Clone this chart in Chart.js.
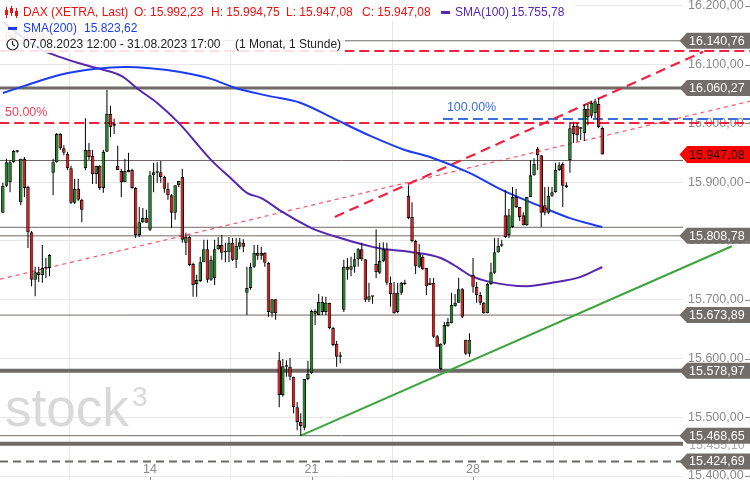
<!DOCTYPE html>
<html><head><meta charset="utf-8">
<script src="https://cdn.jsdelivr.net/npm/chart.js@4.4.1/dist/chart.umd.min.js"></script>
<style>html,body{margin:0;padding:0;background:#fff;overflow:hidden}#wrap{width:750px;height:480px}canvas{display:block}</style>
</head><body><div id="wrap"><canvas id="chart" width="750" height="480"></canvas></div>
<script>
// ---------- DATA (hourly candles, 07.08.2023 12:00 - 31.08.2023 17:00) ----------
const opens = [15848,15894,15900,15934,15952,15866,15940,15892,15815,15734,15747,15742,15754,15754,15916,15934,15982,15958,15948,15924,
15865,15889,15870,15924,15955,15945,15914,15928,15890,15952,16016,15999,15928,15919,15900,15917,15921,15890,15810,15832,
15839,15819,15912,15917,15917,15909,15889,15878,15848,15895,15909,15797,15807,15761,15727,15732,15764,15786,15734,15737,
15786,15793,15783,15781,15797,15768,15790,15797,15712,15720,15756,15780,15775,15780,15763,15677,15701,15597,15538,15587,
15586,15569,15517,15492,15482,15565,15575,15681,15674,15679,15679,15695,15652,15625,15604,15683,15756,15751,15756,15769,
15786,15769,15700,15706,15761,15746,15766,15786,15729,15712,15679,15712,15729,15877,15841,15800,15756,15773,15754,15725,
15729,15638,15582,15625,15655,15660,15689,15695,15718,15632,15608,15742,15722,15708,15695,15677,15727,15746,15781,15792,
15844,15810,15824,15875,15858,15844,15827,15875,15912,15957,15946,15861,15848,15877,15883,15921,15931,15895,15938,15996,
15996,15992,15984,16025,16013,16018,16033,15992.23];
const highs = [15899,15940,15938,15955,15955,15940,15943,15894,15817,15756,15756,15793,15771,15778,15940,15984,15984,15963,15952,15928,
15906,15906,15872,16009,15967,15955,15928,15929,15955,16057,16030,16008,15962,15923,15940,15950,15923,15892,15858,15856,
15853,15919,15933,15934,15936,15911,15899,15880,15895,15902,15923,15814,15809,15763,15742,15773,15802,15802,15775,15802,
15807,15810,15797,15807,15805,15805,15805,15803,15756,15763,15793,15793,15790,15781,15764,15701,15701,15611,15599,15597,
15601,15569,15526,15507,15565,15596,15683,15684,15710,15706,15705,15695,15654,15630,15611,15768,15771,15773,15780,15788,
15797,15769,15729,15706,15820,15797,15798,15797,15739,15730,15729,15730,15734,15895,15866,15802,15795,15776,15754,15737,
15737,15640,15626,15662,15669,15712,15710,15737,15720,15632,15643,15771,15730,15713,15696,15729,15763,15805,15805,15802,
15887,15855,15892,15889,15858,15849,15875,15938,15941,15960,15946,15892,15892,15892,15933,15934,15934,15900,16001,16003,
16001,15994,16033,16033,16038,16042,16043,15994.75];
const lows = [15848,15892,15883,15933,15950,15861,15875,15788,15723,15706,15730,15729,15737,15740,15878,15933,15955,15946,15921,15863,
15863,15868,15832,15921,15938,15897,15897,15887,15882,15952,15977,15982,15921,15875,15900,15917,15889,15805,15807,15831,
15831,15817,15883,15899,15899,15882,15870,15822,15836,15892,15797,15776,15757,15705,15705,15730,15764,15729,15732,15725,
15785,15768,15764,15764,15766,15754,15786,15781,15674,15717,15754,15768,15768,15756,15671,15671,15666,15517,15535,15569,
15563,15507,15478,15468,15478,15563,15574,15657,15674,15674,15674,15650,15621,15586,15592,15679,15734,15740,15746,15756,
15766,15696,15696,15693,15737,15744,15764,15725,15688,15676,15677,15708,15725,15837,15798,15744,15754,15751,15708,15725,
15635,15620,15580,15623,15654,15660,15688,15695,15669,15606,15603,15712,15695,15691,15676,15677,15725,15744,15780,15790,
15805,15805,15822,15856,15834,15827,15826,15875,15911,15921,15824,15844,15846,15875,15882,15919,15858,15890,15916,15967,
15969,15972,15970,15997,16009,16009,15992,15947.08];
const closes = [15894,15934,15934,15953,15953,15940,15890,15815,15734,15747,15742,15754,15753,15776,15934,15982,15958,15950,15924,15865,
15889,15870,15853,15955,15943,15914,15928,15890,15952,16016,15994,15996,15921,15900,15919,15921,15890,15810,15832,15839,
15831,15912,15917,15916,15909,15889,15878,15848,15895,15902,15802,15807,15759,15725,15734,15764,15786,15734,15768,15786,
15793,15780,15781,15797,15768,15792,15798,15790,15720,15756,15780,15775,15780,15763,15679,15701,15677,15538,15587,15586,
15569,15517,15492,15485,15565,15574,15681,15676,15696,15696,15695,15652,15623,15603,15603,15756,15751,15757,15769,15786,
15769,15700,15706,15705,15747,15766,15786,15729,15710,15677,15712,15729,15727,15839,15800,15757,15778,15752,15723,15729,
15637,15620,15625,15657,15662,15691,15695,15718,15671,15608,15632,15722,15708,15695,15677,15727,15747,15781,15792,15793,
15807,15844,15875,15858,15841,15827,15875,15912,15931,15946,15848,15848,15877,15883,15921,15929,15894,15892,15992,15982,
15980,15991,16025,16011,16035,16038,15994,15947.08];

// moving averages (read at candle positions)
const sma100Idx = [0,5,10,16,21,27,33,38,43,49,58,64,68,72,78,86,94,103,108,114,122,127,130,136,146,153,161,167];
const sma100Val = [16173,16149,16128,16113,16103,16093,16081,16057,16035,16001,15938,15904,15882,15873,15849,15822,15805,15790,15785,15781,15771,15754,15742,15730,15723,15729,15739,15755.78];
const sma200Idx = [0,6,16,26,34,41,49,58,65,74,83,93,102,112,119,130,139,149,158,167];
const sma200Val = [16052,16064,16083,16093,16096,16094,16088,16076,16060,16047,16035,16006,15980,15955,15943,15916,15887,15861,15839,15823.62];

// axis ticks
const yTickValues = [15400,15500,15600,15700,15800,15900,16000,16100,16200];
const xTickIdx = [41,86,131];
const xTickLabels = ['14','21','28'];

// horizontal levels
const levelValues = [16140.76,16060.27,15937.00,15823.30,15808.78,15673.89,15578.97,15455.10,15468.65,15424.69];
// fibonacci-style lines
const fibValues = [16123.4,16000.8,16007.6];
const fibLabels = ['61.80%','50.00%','100.00%'];
const fibStartIdx = [-1,-1,122.6];
// trend lines [startIdx, startVal, endIdx, endVal]
const trendRed = [92.5,15841,195.1,16122];
const trendThin = [-0.8,15735,208.2,16038];
const trendGreen = [83,15468.65,203.1,15791];

// ---------- STYLE ----------
const FONT = '"Liberation Sans", Arial, sans-serif';
const GREEN = '#138a1a', RED = '#f01010', LEVEL = '#6f6a67';
const XMIN = -0.794, XMAX = 189.5, XFAR = 209;
const levelWidth = [1,3,1,1,1,1,4,4,1,2];
const levelDash  = [[],[],[],[],[],[],[],[],[],[8,5]];
const levelTag   = [true,true,false,false,true,true,true,'ghost',true,true];
const fibColor = ['#f2213f','#f2213f','#3a6fd8'];

function fmt(v){const s=Math.abs(v).toFixed(2).split('.');return s[0].replace(/\B(?=(\d{3})+(?!\d))/g,'.')+','+s[1];}

Chart.defaults.font.family = FONT;
Chart.defaults.font.size = 12;

const datasets = [];
levelValues.forEach((v,k)=>datasets.push({type:'line',data:[{x:XMIN,y:v},{x:XMAX,y:v}],borderColor:LEVEL,borderWidth:levelWidth[k],borderDash:levelDash[k],pointRadius:0,order:7}));
fibValues.forEach((v,k)=>datasets.push({type:'line',data:[{x:fibStartIdx[k],y:v},{x:XFAR,y:v}],borderColor:fibColor[k],borderWidth:2,borderDash:[10,5],pointRadius:0,clip:false,order:6}));
datasets.push({type:'line',data:[{x:trendThin[0],y:trendThin[1]},{x:trendThin[2],y:trendThin[3]}],borderColor:'rgba(245,40,70,0.8)',borderWidth:1.2,borderDash:[4,4],pointRadius:0,clip:false,order:5});
datasets.push({type:'line',data:[{x:trendRed[0],y:trendRed[1]},{x:trendRed[2],y:trendRed[3]}],borderColor:'#f2213f',borderWidth:2.2,borderDash:[10,6],pointRadius:0,clip:false,order:5});
datasets.push({type:'line',data:[{x:trendGreen[0],y:trendGreen[1]},{x:trendGreen[2],y:trendGreen[3]}],borderColor:'#3ba43b',borderWidth:2,pointRadius:0,clip:false,order:5});
datasets.push({type:'line',data:sma200Idx.map((x,i)=>({x,y:sma200Val[i]})),borderColor:'#1d3cf0',borderWidth:2,pointRadius:0,cubicInterpolationMode:'monotone',order:3});
datasets.push({type:'line',data:sma100Idx.map((x,i)=>({x,y:sma100Val[i]})),borderColor:'#5626b0',borderWidth:2,pointRadius:0,cubicInterpolationMode:'monotone',order:3});
datasets.push({type:'bar',data:opens.map((o,i)=>({x:i,y:[lows[i],highs[i]]})),backgroundColor:'#000',barThickness:1,minBarLength:1,grouped:false,inflateAmount:0,order:1});
datasets.push({type:'bar',data:opens.map((o,i)=>({x:i,y:[o,closes[i]]})),backgroundColor:opens.map((o,i)=>closes[i]>=o?GREEN:RED),borderColor:'#000',borderWidth:1,borderSkipped:false,barThickness:3.5,minBarLength:1.5,grouped:false,inflateAmount:0,order:0});

function tag(ctx,y,text,bg,fg,h){
  ctx.beginPath();ctx.moveTo(679.5,y);ctx.lineTo(687,y-h/2);ctx.lineTo(750,y-h/2);ctx.lineTo(750,y+h/2);ctx.lineTo(687,y+h/2);ctx.closePath();
  ctx.fillStyle=bg;ctx.fill();
  ctx.fillStyle=fg;ctx.font='12.5px '+FONT;ctx.textAlign='left';ctx.textBaseline='middle';ctx.fillText(text,689,y+0.5);
}

const overlay = {
  id:'overlay',
  beforeDatasetsDraw(chart){
    const ctx=chart.ctx;ctx.save();
    ctx.fillStyle='#d9d9d9';ctx.textBaseline='alphabetic';ctx.textAlign='left';
    ctx.font='53px '+FONT;ctx.fillText('stock',5,426);
    ctx.font='28px '+FONT;ctx.fillText('3',132,406);
    ctx.restore();
  },
  afterDatasetsDraw(chart){
    const ctx=chart.ctx, y=chart.scales.y, x=chart.scales.x;
    ctx.save();
    ctx.font='12.5px '+FONT;ctx.textBaseline='middle';ctx.textAlign='left';
    ctx.fillStyle='#f0405a';
    ctx.fillText(fibLabels[0],5,y.getPixelForValue(fibValues[0])-13);
    ctx.fillText(fibLabels[1],5,y.getPixelForValue(fibValues[1])-10);
    ctx.fillStyle='#3a6fd8';
    ctx.fillText(fibLabels[2],x.getPixelForValue(fibStartIdx[2])+4,y.getPixelForValue(fibValues[2])-11);
    levelValues.forEach((v,k)=>{
      const py=y.getPixelForValue(v);
      if(levelTag[k]==='ghost'){ctx.fillStyle='#aaa';ctx.font='12.5px '+FONT;ctx.textBaseline='middle';ctx.fillText(fmt(v),689,py+2);}
      else if(levelTag[k]) tag(ctx,py,fmt(v),'#736d69','#fff',16);
    });
    const last=closes[closes.length-1];
    tag(ctx,y.getPixelForValue(last),fmt(last),'#ff0000','#1a0505',17);
    ctx.strokeStyle='#8a8a8a';ctx.lineWidth=1;
    yTickValues.forEach(v=>{const py=Math.round(y.getPixelForValue(v))+0.5;ctx.beginPath();ctx.moveTo(745,py);ctx.lineTo(750,py);ctx.stroke();});
    ctx.fillStyle='#8a8a8a';ctx.font='12.5px '+FONT;ctx.textAlign='center';ctx.textBaseline='middle';
    xTickIdx.forEach((t,k)=>{const px=x.getPixelForValue(t);ctx.fillText(xTickLabels[k],px,470);
      ctx.beginPath();ctx.moveTo(Math.round(px)+0.5,477);ctx.lineTo(Math.round(px)+0.5,480);ctx.stroke();});
    ctx.restore();
  },
  afterDraw(chart){
    const ctx=chart.ctx;ctx.save();
    ctx.fillStyle='rgba(255,255,255,0.86)';
    ctx.fillRect(0,0,345,53);ctx.fillRect(345,0,230,21);
    ctx.font='12px '+FONT;ctx.textBaseline='middle';ctx.textAlign='left';
    ctx.strokeStyle='#f01010';ctx.fillStyle='#f01010';ctx.lineWidth=1;
    [[6.5,7,18,10,5],[11.5,6,16,8,5],[16.5,8,18,11,5]].forEach(c=>{ctx.beginPath();ctx.moveTo(c[0],c[1]);ctx.lineTo(c[0],c[2]);ctx.stroke();ctx.fillRect(c[0]-1.5,c[3],3,c[4]);});
    const n=closes.length-1;
    ctx.fillStyle='#f01010';
    ctx.fillText('DAX (XETRA, Last)',23,12.5);
    ctx.fillText('O: '+fmt(opens[n]),134,12.5);
    ctx.fillText('H: '+fmt(highs[n]),211,12.5);
    ctx.fillText('L: '+fmt(lows[n]),286,12.5);
    ctx.fillText('C: '+fmt(closes[n]),362,12.5);
    ctx.fillStyle='#5626b0';ctx.fillRect(441,11,9,3);
    ctx.fillText('SMA(100)',455,12.5);ctx.fillText(fmt(sma100Val[sma100Val.length-1]),511,12.5);
    ctx.fillStyle='#1d3cf0';ctx.fillRect(8,27,9,3);
    ctx.fillText('SMA(200)',23,28.5);ctx.fillText(fmt(sma200Val[sma200Val.length-1]),84,28.5);
    ctx.strokeStyle='#222';ctx.lineWidth=1.2;ctx.beginPath();ctx.arc(12.5,44.5,5.5,0,Math.PI*2);ctx.stroke();
    ctx.beginPath();ctx.moveTo(12.5,41);ctx.lineTo(12.5,44.5);ctx.lineTo(15,46);ctx.stroke();
    ctx.fillStyle='#222';
    ctx.fillText('07.08.2023 12:00 - 31.08.2023 17:00',23,45);
    ctx.fillText('(1 Monat, 1 Stunde)',235,45);
    ctx.restore();
  }
};

new Chart(document.getElementById('chart'),{
  type:'bar',
  data:{datasets},
  options:{
    responsive:false,animation:false,devicePixelRatio:1,events:[],
    layout:{padding:0},
    plugins:{legend:{display:false},tooltip:{enabled:false}},
    scales:{
      x:{type:'linear',min:XMIN,max:XMAX,offset:false,
        afterBuildTicks:s=>{s.ticks=xTickIdx.map(v=>({value:v}));},
        afterFit:s=>{s.height=0;s.paddingLeft=0;s.paddingRight=0;},
        ticks:{display:false},grid:{color:'#e8e8e8',drawTicks:false},border:{display:false}},
      y:{type:'linear',position:'right',min:15393.2,max:16210.2,
        afterBuildTicks:s=>{s.ticks=yTickValues.map(v=>({value:v}));},
        afterFit:s=>{s.width=67;s.paddingTop=0;s.paddingBottom=0;},
        ticks:{callback:v=>fmt(v),color:'#8a8a8a',font:{size:12.5},padding:5,autoSkip:false},
        grid:{color:'#e8e8e8',drawTicks:false},border:{display:false}}
    }
  },
  plugins:[overlay]
});
</script></body></html>
